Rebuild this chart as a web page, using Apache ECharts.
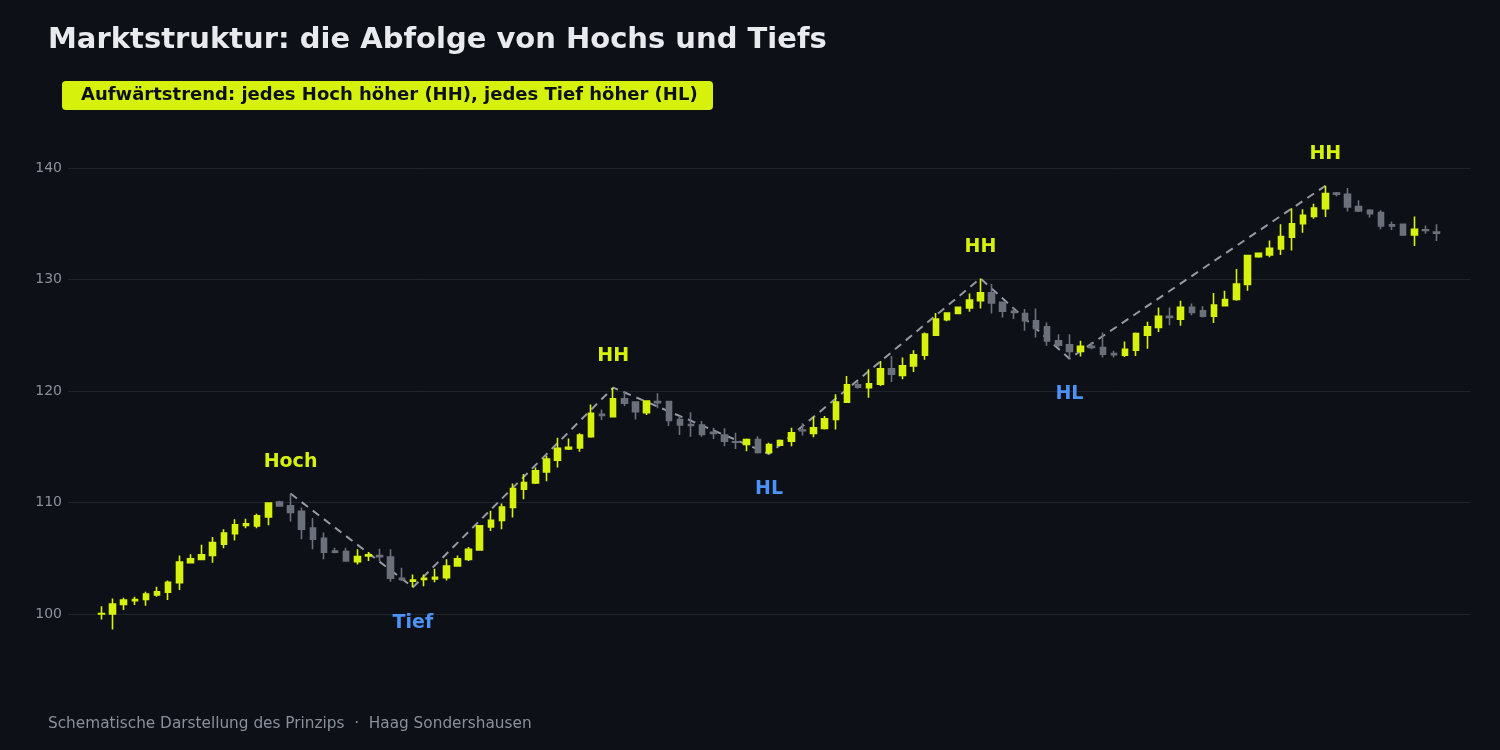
<!DOCTYPE html>
<html>
<head>
<meta charset="utf-8">
<script src="https://cdn.jsdelivr.net/npm/echarts@6/dist/echarts.min.js"></script>
<style>
  html, body { margin: 0; padding: 0; background: #0d1017; }
  #chart { width: 1500px; height: 750px; }
</style>
</head>
<body>
<div id="chart"></div>
<script>
// candle values, one entry per bar
const opens = [
  100.0, 100.0, 100.85, 101.2, 101.3, 101.7, 101.95, 102.8, 104.6, 104.9,
  105.25, 106.25, 107.2, 107.95, 107.9, 108.7, 110.05, 109.7, 109.2, 107.7,
  106.8, 105.65, 105.6, 104.7, 105.2, 105.25, 105.1, 103.2, 102.95, 103.1,
  103.15, 103.25, 104.3, 104.9, 105.75, 107.8, 108.4, 109.55, 111.2, 111.75,
  112.75, 113.8, 114.8, 114.9, 115.9, 117.9, 117.7, 119.3, 119.0, 118.05,
  119.05, 119.05, 117.45, 117.0, 116.95, 116.3, 116.05, 115.45, 115.2, 115.65,
  114.5, 115.15, 115.5, 116.5, 116.2, 116.65, 117.45, 119.0, 120.55, 120.3,
  120.6, 122.0, 121.4, 122.25, 123.2, 125.0, 126.4, 126.95, 127.45, 128.1,
  128.8, 127.95, 127.15, 126.95, 126.3, 125.75, 124.5, 124.15, 123.55, 124.0,
  123.9, 123.35, 123.2, 123.65, 125.0, 125.7, 126.7, 126.45, 127.5, 127.2,
  126.7, 127.65, 128.2, 129.55, 132.05, 132.2, 132.75, 133.8, 135.0, 135.65,
  136.35, 137.75, 137.65, 136.55, 136.2, 136.0, 134.9, 134.95, 134.0, 134.45,
  134.25
]
const closes = [
  100.05, 100.9, 101.25, 101.3, 101.8, 102.0, 102.85, 104.65, 104.95, 105.3,
  106.4, 107.25, 108.0, 108.1, 108.8, 109.95, 109.7, 109.1, 107.6, 106.7,
  105.55, 105.55, 104.75, 105.15, 105.3, 105.15, 103.2, 103.1, 103.05, 103.2,
  103.3, 104.3, 104.95, 105.8, 107.9, 108.4, 109.6, 111.25, 111.8, 112.85,
  113.9, 114.85, 114.95, 116.05, 118.0, 117.8, 119.3, 118.9, 118.15, 119.1,
  118.95, 117.35, 116.95, 116.9, 116.1, 116.2, 115.5, 115.4, 115.65, 114.5,
  115.2, 115.55, 116.25, 116.45, 116.7, 117.5, 119.0, 120.55, 120.35, 120.65,
  122.0, 121.5, 122.25, 123.25, 125.1, 126.45, 127.0, 127.5, 128.15, 128.8,
  127.9, 127.15, 127.05, 126.3, 125.6, 124.5, 124.1, 123.55, 124.0, 123.9,
  123.3, 123.25, 123.75, 125.15, 125.75, 126.7, 126.6, 127.5, 127.05, 126.7,
  127.7, 128.2, 129.6, 132.15, 132.35, 132.8, 133.85, 135.0, 135.75, 136.4,
  137.7, 137.65, 136.5, 136.15, 135.9, 134.8, 134.8, 134.0, 134.5, 134.4,
  134.15
]
const lows = [
  99.5, 98.6, 100.35, 100.8, 100.75, 101.55, 101.25, 102.15, 104.55, 104.9,
  104.6, 105.9, 106.6, 107.7, 107.7, 107.95, 109.65, 108.3, 106.7, 105.8,
  104.9, 105.45, 104.75, 104.45, 104.75, 104.75, 102.9, 102.95, 102.4, 102.5,
  102.85, 103.0, 104.25, 104.75, 105.75, 107.45, 107.6, 108.65, 110.3, 111.65,
  111.9, 113.15, 114.7, 114.55, 115.8, 117.4, 117.7, 118.65, 117.45, 117.85,
  118.45, 116.85, 116.05, 115.9, 115.9, 115.7, 115.05, 114.8, 114.6, 114.4,
  114.35, 115.05, 115.05, 116.0, 115.85, 116.55, 116.55, 119.0, 120.2, 119.4,
  120.45, 120.8, 121.05, 121.7, 122.8, 125.0, 126.25, 126.95, 127.1, 127.4,
  126.95, 126.6, 126.45, 125.4, 124.8, 124.05, 123.9, 122.9, 123.1, 123.75,
  123.0, 123.0, 123.05, 123.15, 123.8, 125.3, 125.9, 125.85, 126.8, 126.6,
  126.1, 127.6, 128.1, 129.0, 131.95, 132.0, 132.2, 132.6, 134.2, 135.45,
  135.6, 137.45, 136.1, 136.05, 135.55, 134.5, 134.45, 133.9, 133.0, 134.1,
  133.45
]
const highs = [
  100.7, 101.4, 101.45, 101.55, 102.0, 102.45, 103.0, 105.25, 105.35, 106.2,
  106.9, 107.6, 108.5, 108.55, 109.0, 109.95, 110.15, 110.8, 109.55, 108.6,
  107.3, 105.95, 105.95, 105.8, 105.55, 105.85, 105.8, 104.15, 103.55, 103.55,
  104.05, 104.9, 105.25, 106.0, 107.9, 109.25, 109.9, 111.7, 112.55, 113.15,
  114.2, 115.8, 115.75, 116.2, 118.8, 118.35, 120.3, 119.95, 119.0, 119.1,
  119.8, 119.05, 117.75, 118.1, 117.3, 116.7, 116.65, 116.25, 115.75, 115.95,
  115.35, 115.65, 116.7, 117.1, 117.7, 117.75, 119.7, 121.35, 120.8, 121.95,
  122.7, 123.15, 123.0, 123.65, 125.25, 127.0, 127.05, 127.5, 128.75, 130.1,
  129.6, 127.95, 127.5, 127.35, 127.4, 126.15, 125.1, 125.1, 124.5, 124.4,
  125.25, 123.6, 124.45, 125.25, 126.2, 127.5, 127.5, 128.1, 127.85, 127.6,
  128.8, 129.0, 130.95, 132.15, 132.4, 133.5, 134.95, 136.4, 136.3, 136.8,
  138.4, 137.85, 138.2, 137.1, 136.3, 136.2, 135.2, 135.0, 135.65, 134.85,
  134.95
]

// swing points joined by the dashed zigzag
const pivotBars = [17, 28, 46, 60, 79, 87, 110]
const pivotValues = [110.8, 102.4, 120.3, 114.35, 130.1, 122.9, 138.4]
const pivotNames = ['Hoch', 'Tief', 'HH', 'HL', 'HH', 'HL', 'HH']
const pivotIsHigh = [true, false, true, false, true, false, true]

const yTicks = [90, 150, 10] // min, max, step

const UP = '#d6f20c'
const DOWN = '#6b707b'
const LOW_BLUE = '#4c93f7'
const PAD = 3 // empty slots on each side of the bars

const chart = echarts.init(document.getElementById('chart'), null, { renderer: 'canvas' })

const slots = opens.length + PAD * 2
const categories = []
for (let i = 0; i < slots; i++) categories.push(String(i))

// candle rows, padded with empty slots at both ends
const candleData = []
for (let i = 0; i < PAD; i++) candleData.push(['-', '-', '-', '-'])
opens.forEach((o, i) => candleData.push([o, closes[i], lows[i], highs[i]]))
for (let i = 0; i < PAD; i++) candleData.push(['-', '-', '-', '-'])

const zigzag = categories.map(() => null)
pivotBars.forEach((b, i) => { zigzag[b + PAD] = pivotValues[i] })

const labelData = pivotBars.map((b, i) => ({
  value: [b + PAD, pivotValues[i] + (pivotIsHigh[i] ? 3 : -3)],
  name: pivotNames[i],
  label: { color: pivotIsHigh[i] ? UP : LOW_BLUE }
}))

const FONT = 'DejaVu Sans'

chart.setOption({
  backgroundColor: '#0d1017',
  animation: false,
  grid: { left: 68, right: 30, top: 56.5, bottom: 24.5, outerBoundsMode: 'none' },
  xAxis: {
    type: 'category',
    data: categories,
    boundaryGap: false,
    axisLine: { show: false },
    axisTick: { show: false },
    axisLabel: { show: false },
    splitLine: { show: false }
  },
  yAxis: {
    type: 'value',
    min: yTicks[0],
    max: yTicks[1],
    interval: yTicks[2],
    axisLine: { show: false },
    axisTick: { show: false },
    axisLabel: {
      color: '#8a909b', fontSize: 14, fontFamily: FONT, margin: 6,
      showMinLabel: false, showMaxLabel: false
    },
    splitLine: {
      showMinLine: false, showMaxLine: false,
      lineStyle: { color: '#1f242d', width: 1 }
    }
  },
  series: [
    {
      type: 'candlestick',
      data: candleData,
      barWidth: 6,
      itemStyle: {
        color: UP, color0: DOWN,
        borderColor: UP, borderColor0: DOWN,
        borderWidth: 1.6
      }
    },
    {
      type: 'line',
      data: zigzag,
      connectNulls: true,
      symbol: 'none',
      lineStyle: { color: '#a3a8b1', width: 2, type: [8, 6], opacity: 0.9 },
      z: 1
    },
    {
      type: 'scatter',
      data: labelData,
      symbolSize: 0,
      itemStyle: { opacity: 1 },
      label: {
        show: true,
        position: 'inside',
        offset: [0, 2],
        formatter: p => p.name,
        fontFamily: FONT,
        fontWeight: 'bold',
        fontSize: 19,
        opacity: 1
      }
    }
  ],
  graphic: [
    {
      type: 'text', left: 48, top: 26,
      style: { text: 'Marktstruktur: die Abfolge von Hochs und Tiefs', fill: '#e8eaee',
        font: 'bold 29px "DejaVu Sans"' }
    },
    {
      type: 'rect', left: 62, top: 81,
      shape: { width: 651, height: 29, r: 4 },
      style: { fill: UP }
    },
    {
      type: 'text', left: 81, top: 86,
      style: { text: 'Aufwärtstrend: jedes Hoch höher (HH), jedes Tief höher (HL)', fill: '#0d1017',
        font: 'bold 18px "DejaVu Sans"' }
    },
    {
      type: 'text', left: 48, top: 717,
      style: { text: 'Schematische Darstellung des Prinzips  ·  Haag Sondershausen', fill: '#8a909b',
        font: '15.3px "DejaVu Sans"' }
    }
  ]
})
</script>
</body>
</html>
